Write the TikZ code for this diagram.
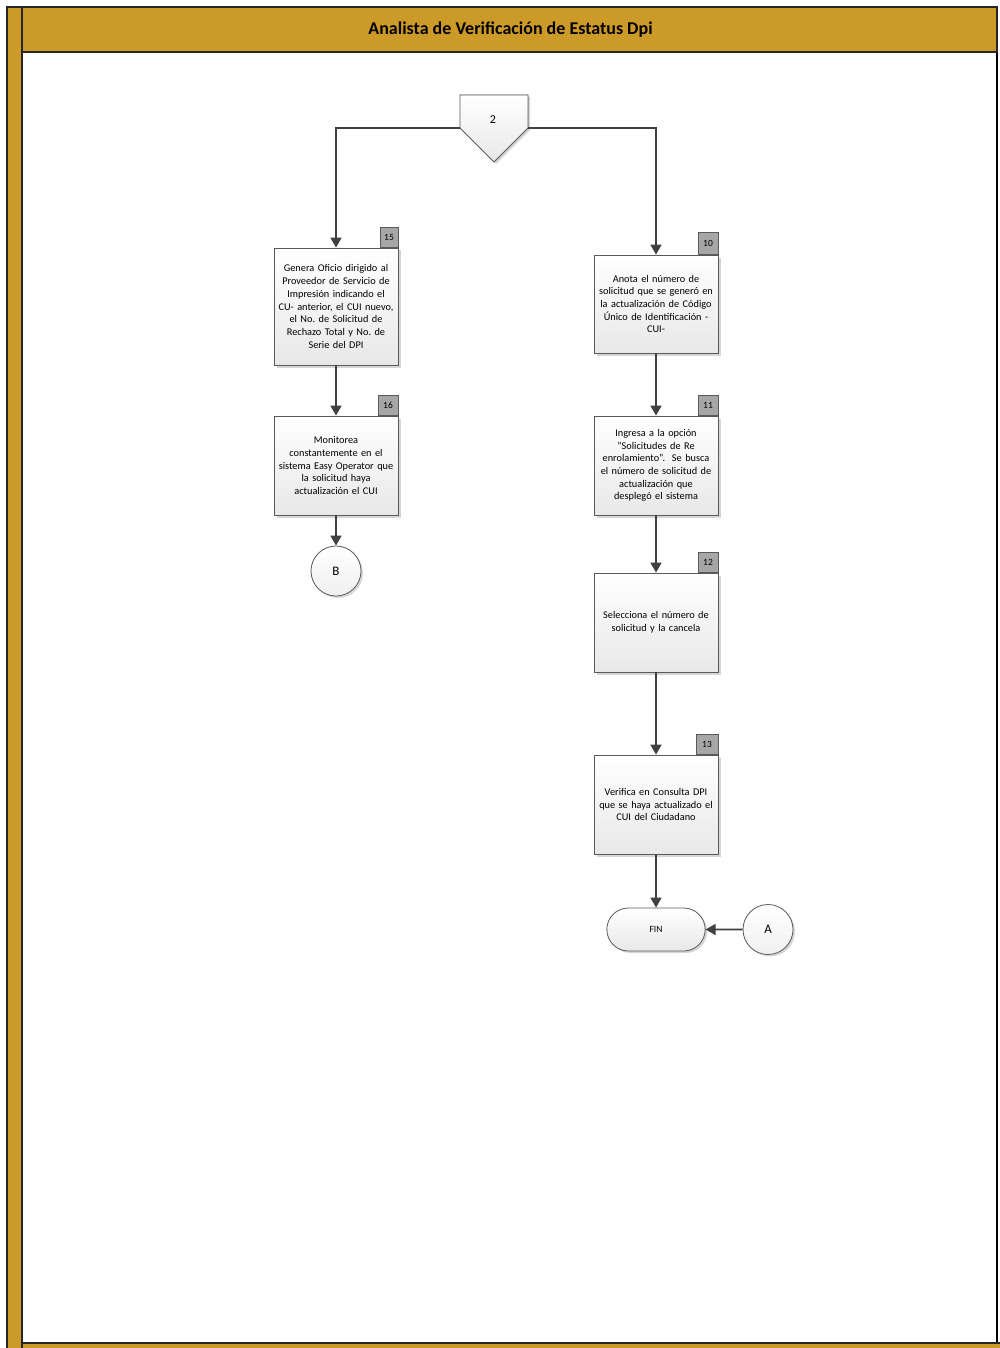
\documentclass[tikz,border=0pt]{standalone}
\usepackage{fontspec}
\setmainfont{Carlito}
\frenchspacing
\usetikzlibrary{arrows.meta,shadows,positioning,shapes.misc}
\definecolor{lanegold}{RGB}{204,154,40}
\definecolor{edgegray}{RGB}{90,90,90}
\definecolor{linegray}{RGB}{64,64,64}
\definecolor{badgegray}{RGB}{166,166,166}
\tikzset{
  procbox/.style={draw=edgegray, line width=0.8pt, top color=white, bottom color=black!9,
    minimum width=124pt, text width=120pt, align=center, inner sep=2pt,
    font=\fontsize{10.3}{12.7}\selectfont,
    drop shadow={shadow xshift=2.5pt, shadow yshift=-2.5pt, fill=black!35, opacity=0.45}},
  badge/.style={draw=edgegray, line width=0.7pt, fill=badgegray, minimum height=20pt,
    inner sep=1pt, font=\fontsize{9.5}{10}\selectfont, anchor=south east},
  conn/.style={draw=linegray, line width=1.6pt, -{Triangle[length=10pt,width=11pt]}},
  circ/.style={circle, draw=edgegray, line width=0.8pt, top color=white, bottom color=black!6,
    minimum size=50pt, inner sep=0pt, font=\fontsize{13}{14}\selectfont,
    drop shadow={shadow xshift=2pt, shadow yshift=-2pt, fill=black!35, opacity=0.45}},
  term/.style={rounded rectangle, draw=edgegray, line width=0.8pt, top color=white, bottom color=black!9,
    minimum width=105pt, minimum height=43pt, font=\fontsize{9.5}{10}\selectfont,
    drop shadow={shadow xshift=2pt, shadow yshift=-2pt, fill=black!35, opacity=0.45}}
}
\begin{document}
\begin{tikzpicture}[x=1pt,y=-1pt]
\useasboundingbox (0,0) rectangle (1000,1348);
% lane frame
\fill[white] (22,52) rectangle (997,1343);
\draw[black, line width=1.2pt] (22,52) rectangle (997,1343);
\filldraw[fill=lanegold, draw=black!85, line width=1.2pt] (7,7) rectangle (22,1350);
\filldraw[fill=lanegold, draw=black!85, line width=1.2pt] (22,1343) rectangle (1002,1350);
\filldraw[fill=lanegold, draw=black!85, line width=1.2pt] (22,7) rectangle (997,52);
\node[font=\fontsize{18}{20}\selectfont\bfseries] (title) at (510.5,29.5) {Analista de Verificación de Estatus Dpi};

% off-page connector 2
\filldraw[draw=edgegray, line width=0.8pt, top color=white, bottom color=black!9,
  drop shadow={shadow xshift=2pt, shadow yshift=-2pt, fill=black!35, opacity=0.45}]
  (460,95) -- (528,95) -- (528,128) -- (494,162) -- (460,128) -- cycle;
\node[minimum width=68pt, minimum height=33pt, inner sep=0pt] (c2) at (494,111.5) {};
\node[font=\fontsize{12}{13}\selectfont] (c2t) at (493,120) {2};

% left column
\node[procbox, minimum height=117pt] (b15) at (336,306.5) {Genera Oficio dirigido al\\Proveedor de Servicio de\\Impresión indicando el\\CU- anterior, el CUI nuevo,\\el No. de Solicitud de\\Rechazo Total y No. de\\Serie del DPI};
\node[badge, minimum width=18pt] (n15) at (b15.north east) {15};
\node[procbox, minimum height=99pt] (b16) at (336,465.5) {Monitorea\\constantemente en el\\sistema Easy Operator que\\la solicitud haya\\actualización el CUI};
\node[badge, minimum width=20pt] (n16) at (b16.north east) {16};
\node[circ] (cB) at (336,571) {B};

% right column
\node[procbox, minimum height=98pt] (b10) at (656,304) {Anota el número de\\solicitud que se generó en\\la actualización de Código\\Único de Identificación -\\CUI-};
\node[badge, minimum width=20pt, minimum height=22pt] (n10) at (b10.north east) {10};
\node[procbox, minimum height=99pt] (b11) at (656,465.5) {Ingresa a la opción\\"Solicitudes de Re\\enrolamiento".~ Se busca\\el número de solicitud de\\actualización que\\desplegó el sistema};
\node[badge, minimum width=20pt] (n11) at (b11.north east) {11};
\node[procbox, minimum height=99pt] (b12) at (656,622.5) {Selecciona el número de\\solicitud y la cancela};
\node[badge, minimum width=20pt] (n12) at (b12.north east) {12};
\node[procbox, minimum height=99pt] (b13) at (656,804.5) {Verifica en Consulta DPI\\que se haya actualizado el\\CUI del Ciudadano};
\node[badge, minimum width=22pt] (n13) at (b13.north east) {13};
\node[term] (fin) at (656,929.5) {FIN};
\node[circ] (cA) at (768,929.5) {A};

% connectors
\draw[conn] (c2.south west) -| (b15.north);
\draw[conn] (c2.south east) -| (b10.north);
\draw[conn] (b15) -- (b16);
\draw[conn] (b16) -- (cB);
\draw[conn] (b10) -- (b11);
\draw[conn] (b11) -- (b12);
\draw[conn] (b12) -- (b13);
\draw[conn] (b13) -- (fin);
\draw[conn] (cA) -- (fin);
\end{tikzpicture}
\end{document}
